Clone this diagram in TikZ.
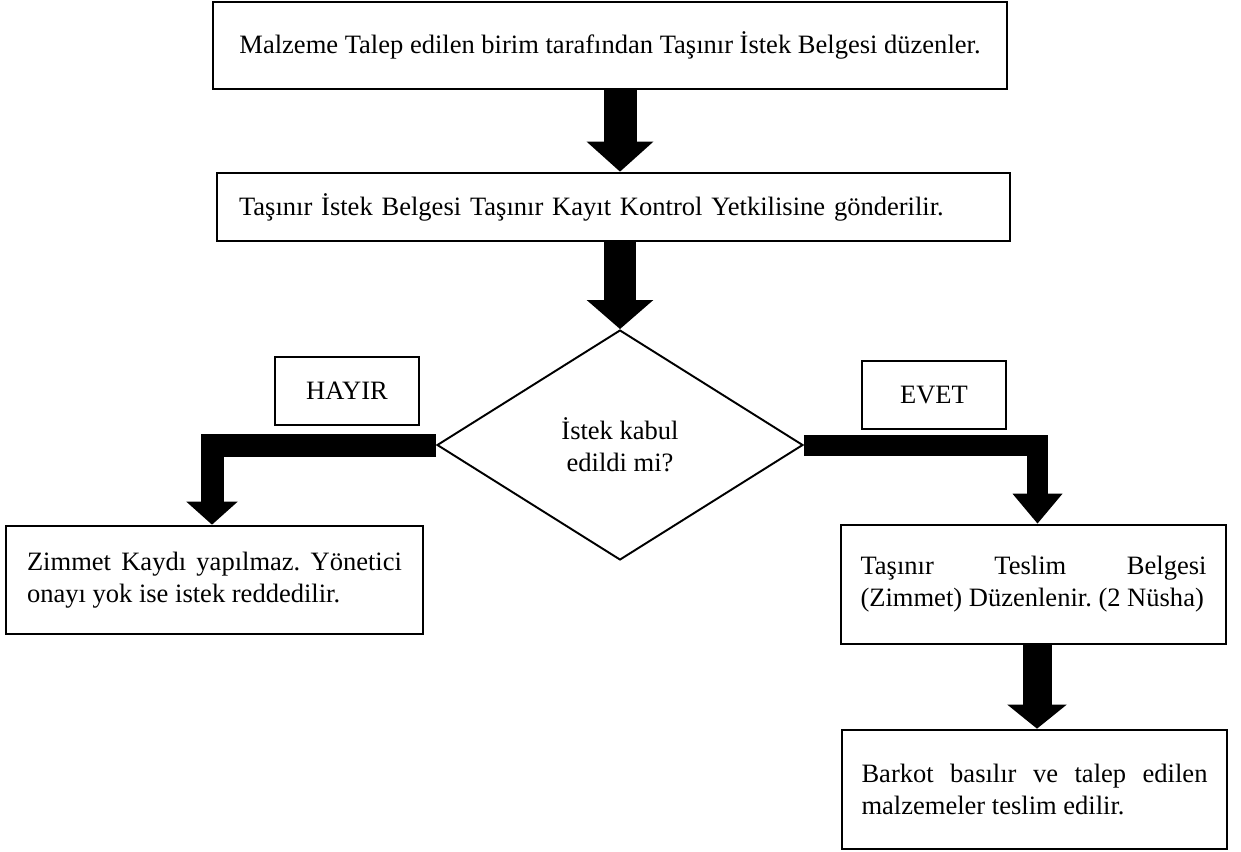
\documentclass[tikz,border=0pt]{standalone}
\usepackage{fontspec}
\setmainfont{Liberation Serif}
\usetikzlibrary{arrows.meta, shapes.geometric}

\begin{document}
\begin{tikzpicture}[x=0.02cm, y=-0.02cm,
		every node/.style={font=\fontsize{15.1}{18.3}\selectfont\frenchspacing},
		box/.style={draw, line width=1.5pt, inner sep=0pt},
		answer/.style={box, minimum width=2.88cm, minimum height=1.36cm},
		blockarrow/.style n args={3}{line width=#1, line join=miter, -{Triangle[width=#2, length=#3]}}]
			\useasboundingbox (0, 0) rectangle (1241, 852);

			\node (start) at (610, 45.5) [box, minimum width=15.88cm, minimum height=1.74cm] {Malzeme Talep edilen birim tarafından Taşınır İstek Belgesi düzenler.};
			\node (send) at (613.5, 207) [box, minimum width=15.86cm, minimum height=1.36cm, text width=14.98cm, align=left] {Taşınır İstek Belgesi Taşınır Kayıt Kontrol Yetkilisine gönderilir.};
			\node (dec) at (620, 445) [draw, diamond, line width=1.1pt, minimum width=7.32cm, minimum height=4.6cm, inner sep=0pt, align=center] {İstek kabul\\edildi mi?};
			\node (hayir) at (347, 391) [answer] {HAYIR};
			\node (evet) at (934, 395) [answer] {EVET};
			\node (red) at (214.5, 580) [box, minimum width=8.34cm, minimum height=2.16cm, text width=7.5cm, align=justify] {Zimmet Kaydı yapılmaz. Yönetici\linebreak onayı yok ise istek reddedilir.};
			\node (teslim) at (1033.5, 584.5) [box, minimum width=7.7cm, minimum height=2.38cm, text width=6.92cm, align=justify] {Taşınır Teslim Belgesi\linebreak (Zimmet) Düzenlenir. (2 Nüsha)};
			\node (barkot) at (1034.5, 789.5) [box, minimum width=7.7cm, minimum height=2.38cm, text width=6.92cm, align=justify] {Barkot basılır ve talep edilen\linebreak malzemeler teslim edilir.};

			% block arrows
			\draw[blockarrow={0.66cm}{1.3cm}{0.6cm}] (start.south -| dec.north) -- (send.north -| dec.north);
			\draw[blockarrow={0.64cm}{1.3cm}{0.58cm}] (send.south -| dec.north) -- (dec.north);
			\draw[blockarrow={0.46cm}{1cm}{0.46cm}] (dec.west) -| ([xshift=-0.05cm]red.north);
			\draw[blockarrow={0.42cm}{0.96cm}{0.6cm}] (dec.east) -| ([xshift=0.08cm]teslim.north);
			\draw[blockarrow={0.58cm}{1.16cm}{0.48cm}] ([xshift=0.07cm]teslim.south) -- ([xshift=0.07cm]teslim.south |- barkot.north);
		\end{tikzpicture}
\end{document}
